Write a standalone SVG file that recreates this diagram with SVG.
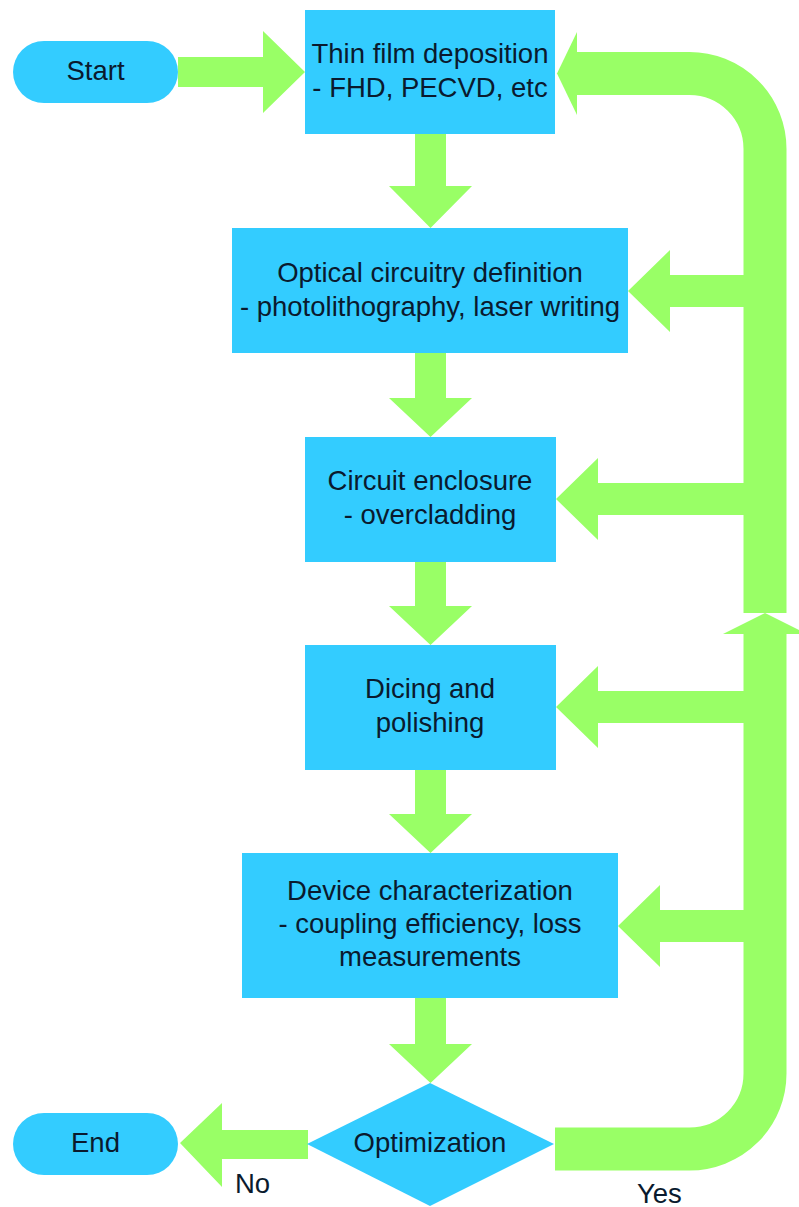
<svg xmlns="http://www.w3.org/2000/svg" width="799" height="1207" viewBox="0 0 799 1207">
<style>
.n{fill:#33CCFF}
.g{fill:#99FF66}
.gs{fill:none;stroke:#99FF66;stroke-width:43}
text{font-family:"Liberation Sans",Arial,sans-serif;font-size:27.5px;fill:#0a1a2e}
.c{text-anchor:middle}
</style>
<rect width="799" height="1207" fill="#fff"/>
<g id="connectors">
<polygon class="g" points="178,57 263,57 263,31 305,72 263,113 263,87 178,87"/>
<polygon class="g" points="415,134 446,134 446,186 472,186 430.5,228 389,186 415,186"/>
<polygon class="g" points="415,353 446,353 446,398 472,398 430.5,437 389,398 415,398"/>
<polygon class="g" points="415,562 446,562 446,606 472,606 430.5,645 389,606 415,606"/>
<polygon class="g" points="415,770 446,770 446,814 472,814 430.5,853 389,814 415,814"/>
<polygon class="g" points="415,998 446,998 446,1044 472,1044 430.5,1083 389,1044 415,1044"/>
<path class="gs" d="M576 73.5 H689.5 A75.5 75.5 0 0 1 765 149 V613"/>
<polygon class="g" points="557,73.5 577,32 577,115"/>
<path class="gs" d="M555 1149 H689.5 A75.5 75.5 0 0 0 765 1073.5 V633"/>
<polygon class="g" points="723,634 765,613 807,634"/>
<polygon class="g" points="628,291 670,250 670,275 744,275 744,307 670,307 670,332"/>
<polygon class="g" points="556,499 598,458 598,483 744,483 744,515 598,515 598,540"/>
<polygon class="g" points="556,707 598,666 598,691 744,691 744,723 598,723 598,748"/>
<polygon class="g" points="618,926 660,885 660,910 744,910 744,942 660,942 660,967"/>
<polygon class="g" points="180,1143 222,1103 222,1130 308,1130 308,1159 222,1159 222,1187"/>
</g>
<g id="start"><rect class="n" x="13" y="41" width="165" height="62" rx="31"/><text class="c" x="95.5" y="80">Start</text></g>
<g id="deposition"><rect class="n" x="305" y="10" width="250" height="124"/><text class="c" x="430" y="63">Thin film deposition</text><text class="c" x="430" y="97">- FHD, PECVD, etc</text></g>
<g id="definition"><rect class="n" x="232" y="228" width="396" height="125"/><text class="c" x="430" y="282">Optical circuitry definition</text><text class="c" x="430" y="316">- photolithography, laser writing</text></g>
<g id="enclosure"><rect class="n" x="305" y="437" width="251" height="125"/><text class="c" x="430" y="490">Circuit enclosure</text><text class="c" x="430" y="524">- overcladding</text></g>
<g id="dicing"><rect class="n" x="305" y="645" width="251" height="125"/><text class="c" x="430" y="698">Dicing and</text><text class="c" x="430" y="732">polishing</text></g>
<g id="characterization"><rect class="n" x="242" y="853" width="376" height="145"/><text class="c" x="430" y="900">Device characterization</text><text class="c" x="430" y="933">- coupling efficiency, loss</text><text class="c" x="430" y="966">measurements</text></g>
<g id="optimization"><polygon class="n" points="430,1083 554,1144 430,1206 307,1144"/><text class="c" x="430" y="1152">Optimization</text></g>
<g id="end"><rect class="n" x="13" y="1113" width="165" height="62" rx="31"/><text class="c" x="95.5" y="1152">End</text></g>
<g id="labels"><text x="235" y="1193">No</text><text x="637" y="1203">Yes</text></g>
</svg>
